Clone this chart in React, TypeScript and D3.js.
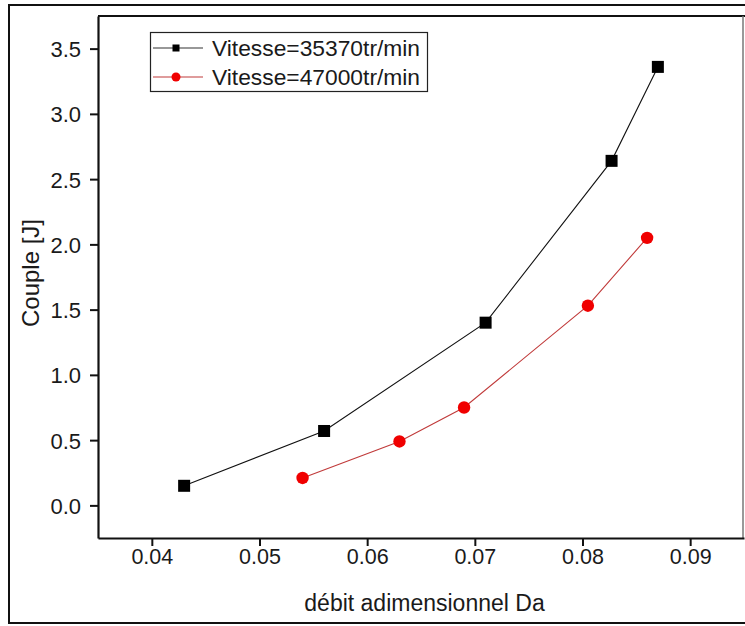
import React, { useEffect, useRef } from "react";
import * as d3 from "d3";

// values
const daBlack = [0.043, 0.056, 0.071, 0.0827, 0.087];
const coupleBlack = [0.15, 0.57, 1.4, 2.64, 3.36];
const daRed = [0.054, 0.063, 0.069, 0.0805, 0.086];
const coupleRed = [0.21, 0.49, 0.75, 1.53, 2.05];

const xTicks = [0.04, 0.05, 0.06, 0.07, 0.08, 0.09];
const xMinor = [0.035, 0.045, 0.055, 0.065, 0.075, 0.085];
const yTicks = [0, 0.5, 1, 1.5, 2, 2.5, 3, 3.5];
const yMinor = [-0.25, 0.25, 0.75, 1.25, 1.75, 2.25, 2.75, 3.25];

const seriesNames = ["Vitesse=35370tr/min", "Vitesse=47000tr/min"];

const FONT = "'Liberation Sans', Arial, sans-serif";
const W = 745;
const H = 626;

const App = () => {
  const svgRef = useRef<SVGSVGElement | null>(null);

  useEffect(() => {
    const svg = d3.select(svgRef.current);
    svg.selectAll("*").remove();

    const margin = { top: 16, right: 1, bottom: 88, left: 98 };

    const x = d3
      .scaleLinear()
      .domain([0.035, 0.095])
      .range([margin.left, W - margin.right]);
    const y = d3
      .scaleLinear()
      .domain([-0.25, 3.75])
      .range([H - margin.bottom, margin.top]);

    // outer frame (right side is cut off by the picture edge)
    svg
      .append("rect")
      .attr("x", 9)
      .attr("y", 5)
      .attr("width", W)
      .attr("height", 618)
      .attr("fill", "#fff")
      .attr("stroke", "#111")
      .attr("stroke-width", 2);

    // plot box top + right
    const x0 = x(0.035), x1 = x(0.095) - 1, y0 = y(-0.25), y1 = y(3.75);
    svg
      .append("line")
      .attr("x1", x0).attr("x2", W)
      .attr("y1", y1).attr("y2", y1)
      .attr("stroke", "#111").attr("stroke-width", 2);
    svg
      .append("line")
      .attr("x1", x1).attr("x2", x1)
      .attr("y1", y1).attr("y2", y0)
      .attr("stroke", "#777").attr("stroke-width", 1.5);

    // bottom axis
    const gx = svg.append("g").attr("transform", `translate(0,${y0})`);
    gx.call(
      d3.axisBottom(x).tickValues(xMinor).tickSize(4).tickFormat(() => "")
    );
    gx.call(
      d3.axisBottom(x).tickValues(xTicks).tickSize(8).tickSizeOuter(0)
        .tickFormat(d3.format(".2f"))
    );
    gx.selectAll(".domain").attr("stroke", "#111").attr("stroke-width", 2.2);
    gx.selectAll(".tick line").attr("stroke", "#111").attr("stroke-width", 2);
    gx.selectAll("text")
      .attr("y", 26)
      .attr("dy", 0)
      .style("font-family", FONT)
      .style("font-size", "21.5px")
      .attr("fill", "#1a1a1a");

    // left axis
    const gy = svg.append("g").attr("transform", `translate(${x0},0)`);
    gy.call(
      d3.axisLeft(y).tickValues(yMinor).tickSize(4).tickFormat(() => "")
    );
    gy.call(
      d3.axisLeft(y).tickValues(yTicks).tickSize(8).tickSizeOuter(0)
        .tickFormat(d3.format(".1f"))
    );
    gy.selectAll(".domain").attr("stroke", "#111").attr("stroke-width", 2.2);
    gy.selectAll(".tick line").attr("stroke", "#111").attr("stroke-width", 2);
    gy.selectAll("text")
      .attr("x", -17)
      .attr("dy", "0.36em")
      .style("font-family", FONT)
      .style("font-size", "22px")
      .attr("fill", "#1a1a1a");

    // axis titles
    svg
      .append("text")
      .attr("x", (x0 + x1) / 2 + 4)
      .attr("y", 611)
      .attr("text-anchor", "middle")
      .style("font-family", FONT)
      .style("font-size", "23px")
      .attr("fill", "#1a1a1a")
      .text("débit adimensionnel Da");
    svg
      .append("text")
      .attr("transform", `translate(39,${(y0 + y1) / 2 - 4}) rotate(-90)`)
      .attr("text-anchor", "middle")
      .style("font-family", FONT)
      .style("font-size", "24px")
      .attr("fill", "#1a1a1a")
      .text("Couple [J]");

    const blackPts = daBlack.map((d, i) => [x(d), y(coupleBlack[i])] as [number, number]);
    const redPts = daRed.map((d, i) => [x(d), y(coupleRed[i])] as [number, number]);

    svg
      .append("path")
      .attr("d", d3.line()(blackPts))
      .attr("fill", "none")
      .attr("stroke", "#111")
      .attr("stroke-width", 1.1);
    svg
      .append("path")
      .attr("d", d3.line()(redPts))
      .attr("fill", "none")
      .attr("stroke", "#c03a3a")
      .attr("stroke-width", 1.1);

    const sq = 12;
    svg
      .selectAll(".sq")
      .data(blackPts)
      .enter()
      .append("rect")
      .attr("class", "sq")
      .attr("x", (d) => d[0] - sq / 2)
      .attr("y", (d) => d[1] - sq / 2)
      .attr("width", sq)
      .attr("height", sq)
      .attr("fill", "#000");
    svg
      .selectAll(".dot")
      .data(redPts)
      .enter()
      .append("circle")
      .attr("class", "dot")
      .attr("cx", (d) => d[0])
      .attr("cy", (d) => d[1])
      .attr("r", 6.2)
      .attr("fill", "#f00000");

    // legend
    const lg = svg.append("g");
    lg.append("rect")
      .attr("x", 150.5)
      .attr("y", 32.5)
      .attr("width", 277)
      .attr("height", 59)
      .attr("fill", "#fff")
      .attr("stroke", "#222")
      .attr("stroke-width", 1.2);
    seriesNames.forEach((name, i) => {
      const cy = 48 + i * 29;
      lg.append("line")
        .attr("x1", 153).attr("x2", 203)
        .attr("y1", cy).attr("y2", cy)
        .attr("stroke", i === 0 ? "#333" : "#c03a3a")
        .attr("stroke-width", 1.2);
      if (i === 0) {
        lg.append("rect")
          .attr("x", 176 - 3.5).attr("y", cy - 3.5)
          .attr("width", 7).attr("height", 7)
          .attr("fill", "#000");
      } else {
        lg.append("circle")
          .attr("cx", 176).attr("cy", cy)
          .attr("r", 4.5)
          .attr("fill", "#f00000");
      }
      lg.append("text")
        .attr("x", 212)
        .attr("y", cy)
        .attr("dy", "0.36em")
        .style("font-family", FONT)
        .style("font-size", "22.8px")
        .attr("fill", "#1a1a1a")
        .text(name);
    });
  }, []);

  return (
    <div style={{ position: "absolute", left: 0, top: 0 }}>
      <svg ref={svgRef} width={W} height={H} style={{ display: "block", background: "#fff" }}></svg>
    </div>
  );
};

export default App;
